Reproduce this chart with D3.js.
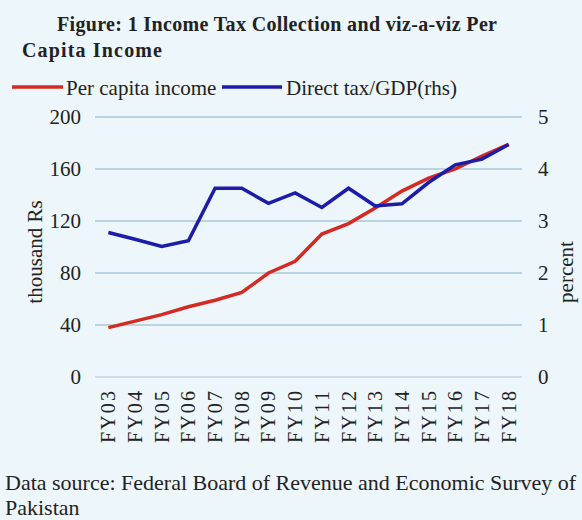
<!DOCTYPE html>
<html>
<head>
<meta charset="utf-8">
<script src="https://d3js.org/d3.v7.min.js"></script>
<style>
  body { margin: 0; background: #edf6fb; }
  text { font-family: "Liberation Serif", "Times New Roman", serif; fill: #222; }
</style>
</head>
<body>
<svg id="vis"></svg>
<script>
    // data
    const years = ['FY03', 'FY04', 'FY05', 'FY06', 'FY07', 'FY08', 'FY09', 'FY10',
                   'FY11', 'FY12', 'FY13', 'FY14', 'FY15', 'FY16', 'FY17', 'FY18']
    const perCapita = [38, 43, 48, 54, 59, 65, 80, 89, 110, 118, 130, 143, 153, 160, 170, 179]
    const directTax = [2.78, 2.65, 2.51, 2.62, 3.63, 3.63, 3.34, 3.54, 3.26, 3.63, 3.29, 3.33, 3.74, 4.08, 4.19, 4.47]
    const leftTicks = [0, 40, 80, 120, 160, 200]
    const rightTicks = [0, 1, 2, 3, 4, 5]

    const serif = '"Liberation Serif", "Times New Roman", serif'

    let svg = d3.select('#vis')
        .attr('width', 582)
        .attr('height', 520)

    svg.append('rect')
        .attr('width', 582)
        .attr('height', 520)
        .attr('fill', '#edf6fb')

    let x = d3.scaleBand().domain(years).range([95, 522])
    let yL = d3.scaleLinear().domain([0, 200]).range([377, 117])
    let yR = d3.scaleLinear().domain([0, 5]).range([377, 117])
    const cx = d => x(d) + x.bandwidth() / 2

    // title
    svg.append('text')
        .attr('x', 57).attr('y', 31)
        .attr('textLength', 440)
        .style('font-size', '20px').style('font-weight', 'bold')
        .text('Figure: 1   Income Tax Collection and viz-a-viz Per')
    svg.append('text')
        .attr('x', 22).attr('y', 57)
        .attr('textLength', 140)
        .style('font-size', '20px').style('font-weight', 'bold')
        .text('Capita Income')

    // legend
    svg.append('line').attr('x1', 12).attr('x2', 63).attr('y1', 87).attr('y2', 87)
        .attr('stroke', '#d42a22').attr('stroke-width', 3.5)
    svg.append('text').attr('x', 66).attr('y', 95)
        .style('font-size', '21px').text('Per capita income')
    svg.append('line').attr('x1', 222).attr('x2', 282).attr('y1', 87).attr('y2', 87)
        .attr('stroke', '#1c1ca8').attr('stroke-width', 3.5)
    svg.append('text').attr('x', 286).attr('y', 95)
        .style('font-size', '21px').text('Direct tax/GDP(rhs)')

    // gridlines
    svg.append('g').selectAll('line')
        .data(leftTicks)
        .enter().append('line')
        .attr('x1', 95).attr('x2', 522)
        .attr('y1', d => yL(d)).attr('y2', d => yL(d))
        .attr('stroke', d => d === 0 ? '#c4d3dd' : '#a9c8dd')
        .attr('stroke-width', 1.5)

    // axes
    let left = svg.append('g')
        .attr('transform', 'translate(95,0)')
        .call(d3.axisLeft(yL).tickValues(leftTicks).tickSize(0).tickPadding(14))
    left.select('.domain').remove()
    left.selectAll('text').style('font-size', '21px').style('font-family', serif).attr('fill', '#222')

    let right = svg.append('g')
        .attr('transform', 'translate(522,0)')
        .call(d3.axisRight(yR).tickValues(rightTicks).tickFormat(d3.format('d')).tickSize(0).tickPadding(16))
    right.select('.domain').remove()
    right.selectAll('text').style('font-size', '21px').style('font-family', serif).attr('fill', '#222')

    let bottom = svg.append('g')
        .attr('transform', 'translate(0,377)')
        .call(d3.axisBottom(x).tickSize(0))
    bottom.select('.domain').remove()
    bottom.selectAll('text')
        .style('font-size', '20px').style('font-family', serif).attr('fill', '#222')
        .attr('text-anchor', 'end')
        .attr('textLength', 52)
        .attr('transform', 'rotate(-90)')
        .attr('x', -14).attr('y', 0).attr('dy', '0.35em')

    // axis titles
    svg.append('text')
        .attr('transform', 'translate(42,252) rotate(-90)')
        .attr('text-anchor', 'middle')
        .style('font-size', '21px')
        .text('thousand Rs')
    svg.append('text')
        .attr('transform', 'translate(573,272) rotate(-90)')
        .attr('text-anchor', 'middle')
        .style('font-size', '21px')
        .text('percent')

    // series
    let redLine = d3.line().x((d, i) => cx(years[i])).y(d => yL(d))
    let blueLine = d3.line().x((d, i) => cx(years[i])).y(d => yR(d))

    svg.append('path')
        .datum(perCapita)
        .attr('d', redLine)
        .attr('fill', 'none')
        .attr('stroke', '#d42a22')
        .attr('stroke-width', 3.5)

    svg.append('path')
        .datum(directTax)
        .attr('d', blueLine)
        .attr('fill', 'none')
        .attr('stroke', '#1c1ca8')
        .attr('stroke-width', 3.5)

    // source note
    svg.append('text')
        .attr('x', 5).attr('y', 490)
        .style('font-size', '22px')
        .text('Data source: Federal Board of Revenue and Economic Survey of')
    svg.append('text')
        .attr('x', 5).attr('y', 515)
        .style('font-size', '22px')
        .text('Pakistan')
</script>
</body>
</html>
